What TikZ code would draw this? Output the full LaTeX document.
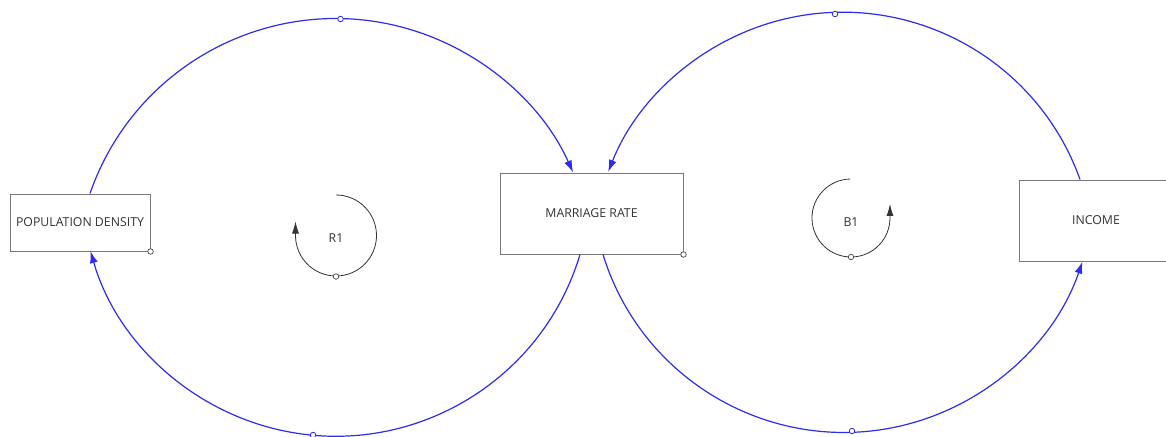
\documentclass[tikz,border=0pt]{standalone}
\usepackage{fontspec}
\setmainfont{Open Sans}
\usetikzlibrary{arrows.meta}
\definecolor{linkblue}{RGB}{45,45,240}
\definecolor{boxgray}{RGB}{120,120,120}
\definecolor{txt}{RGB}{50,50,50}
\begin{document}
\begin{tikzpicture}[x=1pt,y=1pt,
  varbox/.style={draw=boxgray,line width=1pt,fill=white,inner sep=0pt,text=txt,font=\fontsize{12.3}{14}\selectfont},
  link/.style={draw=linkblue,line width=1.2pt,-{Latex[length=12pt,width=8pt]}},
  loopsym/.style={draw=black!80,line width=0.8pt,-{Latex[length=12pt,width=7pt]}},
  bluemark/.style={circle,draw=linkblue,fill=white,line width=0.8pt,inner sep=0pt,minimum size=5.5pt},
  graymark/.style={circle,draw=black!75,fill=white,line width=0.7pt,inner sep=0pt,minimum size=5.5pt},
  lbl/.style={text=txt,font=\fontsize{12.3}{14}\selectfont}]
\useasboundingbox (0,0) rectangle (1166,-436);
\fill[white] (0,0) rectangle (1166,-436);

% variables
\node[varbox,minimum width=140pt,minimum height=57pt] (pd) at (80,-222.5) {POPULATION DENSITY};
\node[varbox,minimum width=183pt,minimum height=81pt] (mr) at (591.5,-213.5) {MARRIAGE RATE};
\node[varbox,minimum width=154pt,minimum height=81pt] (inc) at (1096,-220.5) {INCOME};

% links
\draw[link] ([xshift=10pt]pd.north) arc[start angle=160.9,end angle=24.1,radius=260];
\draw[link] ([xshift=-11.5pt]mr.south) arc[start angle=-16.7,end angle=-164.1,radius=255];
\draw[link] ([xshift=-16pt]inc.north) arc[start angle=19.65,end angle=158.5,radius=252];
\draw[link] ([xshift=11.5pt]mr.south) arc[start angle=197.1,end angle=341.2,radius=252];

% link markers
\node[bluemark] (m1) at (340.5,-19) {};
\node[bluemark] (m2) at (313,-435) {};
\node[bluemark] (m3) at (835,-14) {};
\node[bluemark] (m4) at (852,-431) {};

% box corner markers
\node[graymark] (c1) at (pd.south east) {};
\node[graymark] (c2) at (mr.south east) {};

% loop symbols
\node[lbl] (r1) at (336,-238) {R1};
\node[lbl] (b1) at (851,-222) {B1};
\draw[loopsym] (336,-195) arc[start angle=90,end angle=-180,radius=40.5] -- ++(0,14);
\node[graymark] (r1m) at (336,-276.5) {};
\draw[loopsym] (850.3,-179) arc[start angle=91,end angle=360,radius=39] -- ++(0,14);
\node[graymark] (b1m) at (851,-257) {};
\end{tikzpicture}
\end{document}
